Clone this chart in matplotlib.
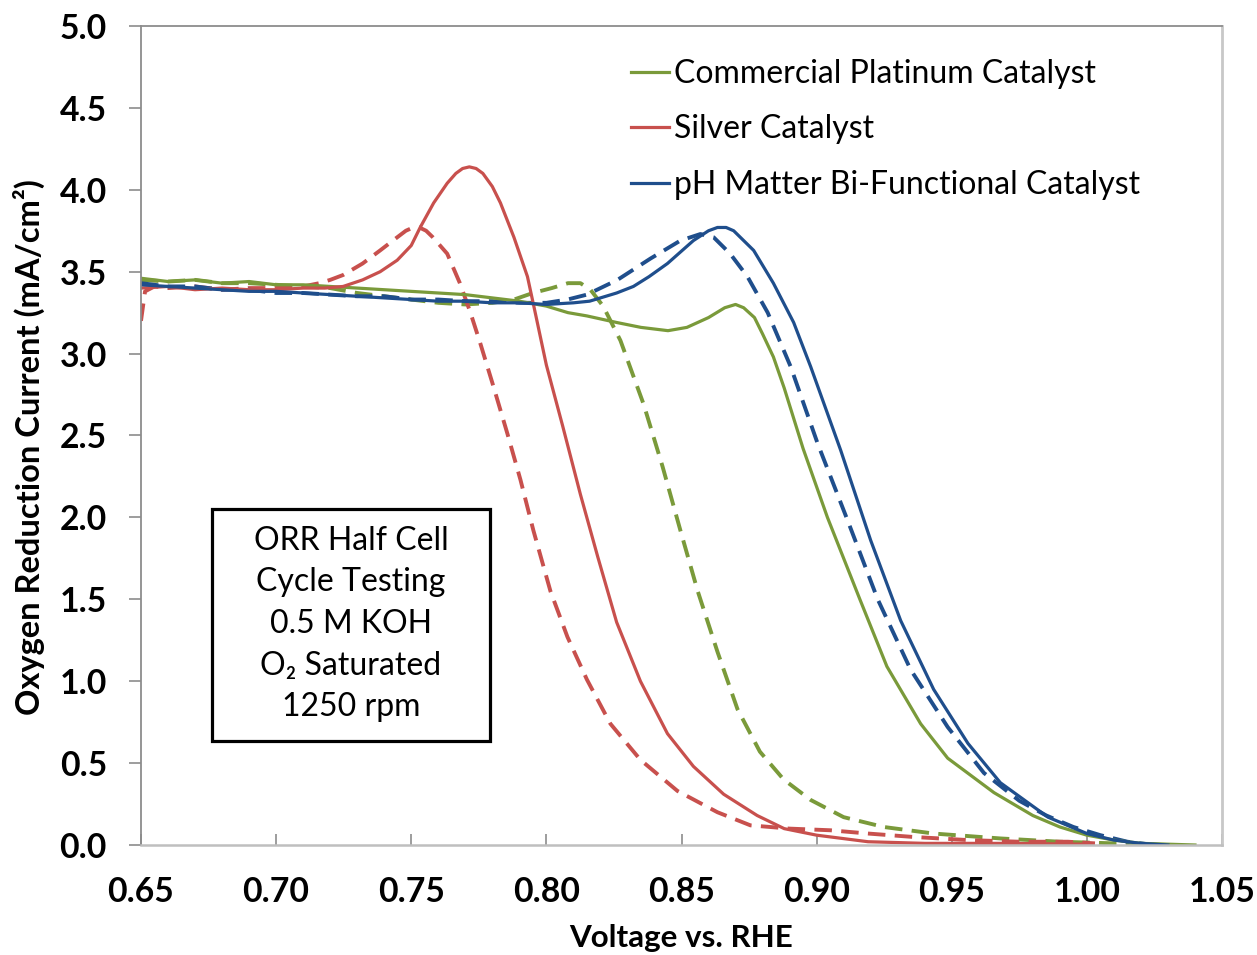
import matplotlib
matplotlib.use("Agg")
import matplotlib.pyplot as plt
from matplotlib.patches import Rectangle

plt.rcParams['font.family'] = ['Lato', 'DejaVu Sans']

# ---------------- data ----------------
pt_solid_v = [0.650, 0.660, 0.670, 0.680, 0.690, 0.700, 0.710, 0.720, 0.730, 0.740,
              0.750, 0.760, 0.770, 0.780, 0.790, 0.800, 0.808, 0.815, 0.826, 0.835,
              0.845, 0.852, 0.860, 0.866, 0.870, 0.873, 0.877, 0.880, 0.884, 0.888,
              0.895, 0.904, 0.916, 0.926, 0.9385, 0.9485, 0.9656, 0.980, 0.990, 1.000,
              1.010, 1.020, 1.030, 1.040]
pt_solid_i = [3.46, 3.44, 3.45, 3.43, 3.44, 3.42, 3.42, 3.41, 3.40, 3.39,
              3.38, 3.37, 3.36, 3.34, 3.32, 3.29, 3.25, 3.23, 3.19, 3.16,
              3.14, 3.16, 3.22, 3.28, 3.30, 3.28, 3.22, 3.12, 2.98, 2.79,
              2.42, 2.00, 1.50, 1.09, 0.74, 0.53, 0.32, 0.18, 0.11, 0.06,
              0.03, 0.01, 0.005, 0.0]

pt_dash_v = [0.650, 0.660, 0.670, 0.680, 0.690, 0.700, 0.710, 0.720, 0.730, 0.740,
             0.750, 0.760, 0.770, 0.780, 0.788, 0.795, 0.802, 0.808, 0.8126, 0.8163,
             0.821, 0.8274, 0.836, 0.843, 0.8496, 0.856, 0.8633, 0.8707, 0.879, 0.8878,
             0.8978, 0.910, 0.9248, 0.9433, 0.968, 0.990, 1.010, 1.030]
pt_dash_i = [3.45, 3.44, 3.45, 3.43, 3.43, 3.42, 3.41, 3.40, 3.37, 3.35,
             3.33, 3.31, 3.30, 3.31, 3.33, 3.37, 3.40, 3.43, 3.43, 3.39,
             3.29, 3.08, 2.69, 2.31, 1.92, 1.55, 1.18, 0.83, 0.57, 0.40,
             0.275, 0.17, 0.11, 0.07, 0.04, 0.02, 0.01, 0.0]

ag_solid_v = [0.650, 0.660, 0.670, 0.680, 0.690, 0.700, 0.710, 0.718, 0.7248, 0.732,
              0.7385, 0.7448, 0.750, 0.7533, 0.7583, 0.7633, 0.7665, 0.769, 0.7715, 0.774,
              0.7765, 0.780, 0.783, 0.788, 0.793, 0.796, 0.800, 0.806, 0.8126, 0.819,
              0.826, 0.8348, 0.8448, 0.8544, 0.8656, 0.878, 0.888, 0.900, 0.919, 0.940,
              0.970, 1.000]
ag_solid_i = [3.40, 3.41, 3.39, 3.40, 3.39, 3.39, 3.40, 3.40, 3.41, 3.45,
              3.50, 3.57, 3.66, 3.77, 3.92, 4.04, 4.10, 4.13, 4.14, 4.13,
              4.10, 4.02, 3.92, 3.71, 3.47, 3.24, 2.93, 2.56, 2.14, 1.76,
              1.36, 1.00, 0.68, 0.48, 0.31, 0.18, 0.10, 0.06, 0.02, 0.01,
              0.01, 0.005]

ag_dash_v = [0.650, 0.6515, 0.655, 0.660, 0.670, 0.680, 0.690, 0.700, 0.710, 0.716,
             0.720, 0.7248, 0.732, 0.7385, 0.7448, 0.748, 0.7507, 0.7530, 0.7555, 0.758,
             0.7633, 0.768, 0.7719, 0.7756, 0.7804, 0.7856, 0.7904, 0.7952, 0.8015, 0.8078,
             0.815, 0.8237, 0.8348, 0.8485, 0.8633, 0.8755, 0.890, 0.905, 0.919, 0.935,
             0.956, 0.975, 0.993, 1.003]
ag_dash_i = [3.20, 3.38, 3.41, 3.40, 3.41, 3.39, 3.40, 3.40, 3.41, 3.43,
             3.45, 3.48, 3.55, 3.63, 3.71, 3.75, 3.77, 3.77, 3.75, 3.71,
             3.61, 3.43, 3.25, 3.06, 2.80, 2.51, 2.23, 1.92, 1.55, 1.27,
             1.01, 0.74, 0.52, 0.33, 0.20, 0.12, 0.10, 0.09, 0.07, 0.05,
             0.03, 0.02, 0.02, 0.01]

ph_solid_v = [0.650, 0.660, 0.670, 0.680, 0.690, 0.700, 0.710, 0.720, 0.730, 0.740,
              0.750, 0.760, 0.770, 0.780, 0.790, 0.800, 0.810, 0.816, 0.820, 0.826,
              0.8322, 0.838, 0.8448, 0.8544, 0.860, 0.8633, 0.8665, 0.8693, 0.8767, 0.884,
              0.8915, 0.8978, 0.9089, 0.920, 0.9311, 0.9433, 0.956, 0.968, 0.9856, 1.000,
              1.010, 1.020, 1.030]
ph_solid_i = [3.42, 3.41, 3.40, 3.39, 3.38, 3.38, 3.37, 3.36, 3.35, 3.34,
              3.33, 3.32, 3.32, 3.31, 3.31, 3.30, 3.31, 3.32, 3.34, 3.37,
              3.41, 3.47, 3.55, 3.69, 3.75, 3.77, 3.77, 3.75, 3.63, 3.43,
              3.19, 2.92, 2.41, 1.86, 1.37, 0.95, 0.62, 0.38, 0.17, 0.07,
              0.03, 0.01, 0.0]

ph_dash_v = [0.650, 0.660, 0.670, 0.680, 0.690, 0.700, 0.710, 0.720, 0.730, 0.740,
             0.750, 0.760, 0.770, 0.780, 0.790, 0.800, 0.8078, 0.815, 0.8263, 0.8385,
             0.8496, 0.857, 0.8619, 0.868, 0.8744, 0.8819, 0.8904, 0.9004, 0.9115, 0.9226,
             0.9348, 0.9485, 0.9619, 0.975, 0.985, 0.995, 1.005, 1.015, 1.025]
ph_dash_i = [3.43, 3.41, 3.41, 3.39, 3.39, 3.37, 3.37, 3.36, 3.35, 3.35,
             3.33, 3.33, 3.32, 3.32, 3.31, 3.31, 3.33, 3.36, 3.45, 3.58,
             3.69, 3.73, 3.71, 3.61, 3.47, 3.25, 2.92, 2.45, 1.98, 1.50,
             1.07, 0.72, 0.44, 0.27, 0.18, 0.11, 0.06, 0.02, 0.0]

legend_labels = ["Commercial Platinum Catalyst", "Silver Catalyst",
                 "pH Matter Bi-Functional Catalyst"]
x_ticks = [0.65, 0.70, 0.75, 0.80, 0.85, 0.90, 0.95, 1.00, 1.05]
y_ticks = [0.0, 0.5, 1.0, 1.5, 2.0, 2.5, 3.0, 3.5, 4.0, 4.5, 5.0]
info_lines = ["ORR Half Cell", "Cycle Testing", "0.5 M KOH", "O₂ Saturated", "1250 rpm"]

GREEN = '#7a9a3a'
RED = '#c8504d'
BLUE = '#1f4e8c'

# ---------------- figure ----------------
fig = plt.figure(figsize=(12.57, 9.55), dpi=100)
ax = fig.add_axes([141/1257, 110/955, (1222-141)/1257, (845-26)/955])

lw = 2.3
dash = (0, (4.5, 2.4))
ax.plot(pt_dash_v, pt_dash_i, color=GREEN, lw=lw + 0.5, linestyle=dash)
ax.plot(ag_dash_v, ag_dash_i, color=RED, lw=lw + 0.5, linestyle=dash)
ax.plot(ph_dash_v, ph_dash_i, color=BLUE, lw=lw + 0.5, linestyle=dash)
l1, = ax.plot(pt_solid_v, pt_solid_i, color=GREEN, lw=lw)
l2, = ax.plot(ag_solid_v, ag_solid_i, color=RED, lw=lw)
l3, = ax.plot(ph_solid_v, ph_solid_i, color=BLUE, lw=lw)

ax.set_xlim(0.65, 1.05)
ax.set_ylim(0.0, 5.0)
ax.set_xticks(x_ticks)
ax.set_yticks(y_ticks)
ax.set_xticklabels([f"{v:.2f}" for v in x_ticks])
ax.set_yticklabels([f"{v:.1f}" for v in y_ticks])

for lab in ax.get_xticklabels() + ax.get_yticklabels():
    lab.set_fontweight('bold')
    lab.set_fontsize(24.3)

ax.tick_params(axis='y', direction='out', length=9, width=1.2, color='#8c8c8c', pad=15.5)
ax.tick_params(axis='x', direction='in', length=8, width=1.2, color='#8c8c8c', pad=22)

ax.spines['left'].set_color('#8c8c8c')
ax.spines['left'].set_linewidth(1.3)
ax.spines['top'].set_color('#8c8c8c')
ax.spines['top'].set_linewidth(1.3)
ax.spines['bottom'].set_color('#bfbfbf')
ax.spines['bottom'].set_linewidth(1.8)
ax.spines['right'].set_color('#c8c8c8')
ax.spines['right'].set_linewidth(2.0)

ax.set_xlabel("Voltage vs. RHE", fontsize=22.6, fontweight='bold')
ax.xaxis.set_label_coords(0.5, (845-924)/819)
ax.set_ylabel("Oxygen Reduction Current (mA/cm²)", fontsize=23.5, fontweight='bold')
ax.yaxis.set_label_coords((45-141)/1081, (845-447)/819)

leg = ax.legend([l1, l2, l3], legend_labels, loc='upper left',
                bbox_to_anchor=(618/1257, (955-46)/955), bbox_transform=fig.transFigure,
                frameon=False, fontsize=23.0, handlelength=1.2, handletextpad=0.15,
                labelspacing=0.80, borderaxespad=0)

# annotation box
ax.add_patch(Rectangle(((212-141)/1081, (845-741)/819), 278/1081, 232/819,
                       transform=ax.transAxes, facecolor='white', edgecolor='black',
                       linewidth=2.3, zorder=5))
ax.text((351-141)/1081, (845-624)/819, "\n".join(info_lines),
        transform=ax.transAxes, ha='center', va='center', fontsize=23,
        linespacing=1.48, zorder=6)

fig.savefig("out.png", dpi=100)
